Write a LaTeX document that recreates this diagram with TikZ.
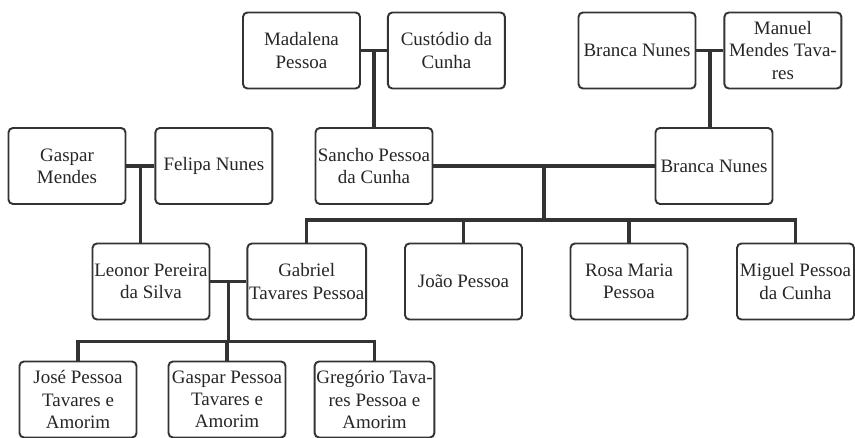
\documentclass[tikz,border=0pt]{standalone}
\usepackage{fontspec}
\setmainfont{Liberation Serif}
\usetikzlibrary{positioning, calc}

\begin{document}
\begin{tikzpicture}[
    x=0.02cm, y=-0.02cm,
    node distance=0.52cm,
    person/.style={rectangle, rounded corners=2.5pt, draw=black!80, line width=1.1pt,
      minimum width=2.34cm, minimum height=1.52cm, inner sep=1pt, align=center,
      font=\fontsize{10.8}{12.6}\selectfont, text=black!85},
    link/.style={draw=black!80, line width=1.8pt}
  ]
    \useasboundingbox (0,0) rectangle (855,438);
    % grandparents
    \node[person] at (301.5,50.5) (mad) {Madalena\\Pessoa};
    \node[person, right=0.52cm of mad] (cus) {Custódio da\\Cunha};
    \node[person] at (637,50.5) (bra1) {Branca Nunes};
    \node[person, right=0.54cm of bra1] (man) {Manuel\\Mendes Tava-\\res};
    \node[person] at (67,166) (gas) {Gaspar\\Mendes};
    \node[person, right=0.56cm of gas] (fel) {Felipa Nunes};
    % parents
    \node[person] at (374,166) (san) {Sancho Pessoa\\da Cunha};
    \node[person] at (714,166) (bra2) {Branca Nunes};
    \node[person] at (151,281.5) (leo) {Leonor Pereira\\da Silva};
    \node[person, right=0.72cm of leo] (gab) {Gabriel\\Tavares Pessoa};
    \node[person] at (463.5,281.5) (joa) {João Pessoa};
    \node[person] at (629,281.5) (ros) {Rosa Maria\\Pessoa};
    \node[person] at (795.5,281.5) (mig) {Miguel Pessoa\\da Cunha};
    % grandchildren
    \node[person] at (78,399.5) (jos) {José Pessoa\\Tavares e\\Amorim};
    \node[person] at (227,399.5) (gpa) {Gaspar Pessoa\\Tavares e\\Amorim};
    \node[person] at (374.5,399.5) (gre) {Gregório Tava-\\res Pessoa e\\Amorim};

    % couples
    \coordinate (c1) at ($(mad.east)!0.5!(cus.west)$);
    \coordinate (c2) at ($(bra1.east)!0.5!(man.west)$);
    \coordinate (c3) at ($(gas.east)!0.5!(fel.west)$);
    \coordinate (c4) at ($(san.east)!0.5!(bra2.west)$);
    \coordinate (c5) at ($(leo.east)!0.5!(gab.west)$);
    \draw[link] (mad) -- (cus);
    \draw[link] (bra1) -- (man);
    \draw[link] (gas) -- (fel);
    \draw[link] (san) -- (bra2);
    \draw[link] (leo) -- (gab);

    % descent
    \draw[link] (c1) -- (c1 |- san.north);
    \draw[link] (c2) -- (c2 |- bra2.north);
    \draw[link] (c3) -- (c3 |- leo.north);
    \coordinate (bus1) at ($(c4)+(0,54)$);
    \draw[link] (c4) -- (bus1);
    \draw[link] (gab.north) |- (bus1) -| (mig.north);
    \draw[link] (joa.north) -- (joa.north |- bus1);
    \draw[link] (ros.north) -- (ros.north |- bus1);
    \coordinate (bus2) at ($(c5)+(0,60)$);
    \draw[link] (c5) -- (bus2);
    \draw[link] (jos.north) |- (bus2) -| (gre.north);
    \draw[link] (gpa.north) -- (gpa.north |- bus2);
  \end{tikzpicture}
\end{document}
